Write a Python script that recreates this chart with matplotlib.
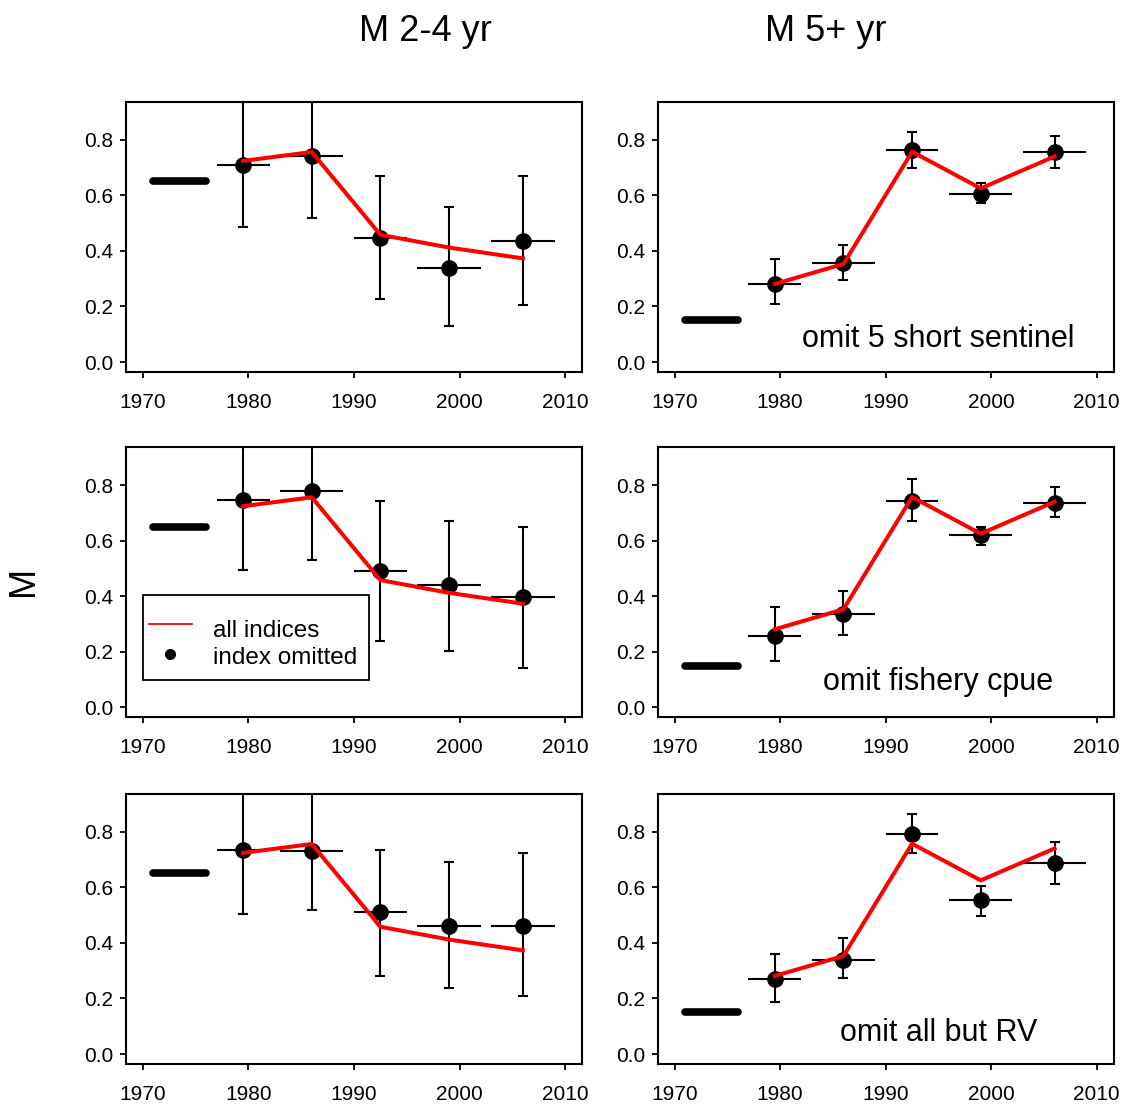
import matplotlib as mpl
mpl.use('Agg')
import matplotlib.pyplot as plt
from matplotlib.patches import Rectangle
from matplotlib.lines import Line2D

plt.rcParams['font.family'] = ['Liberation Sans', 'DejaVu Sans']

# period definitions
period_start = [1977, 1983, 1990, 1996, 2003]
period_end = [1982, 1989, 1995, 2002, 2009]
period_mid = [1979.5, 1986, 1992.5, 1999, 2006]

# prior period (thick black bar)
prior_years = [1971, 1976]
prior_young = 0.65
prior_old = 0.15

# all indices fit (red line)
all_young = [0.724, 0.756, 0.458, 0.412, 0.373]
all_old = [0.281, 0.353, 0.757, 0.625, 0.740]

# index omitted estimates and intervals
young_est = [[0.711, 0.742, 0.446, 0.339, 0.435],
             [0.748, 0.778, 0.490, 0.440, 0.396],
             [0.734, 0.730, 0.511, 0.461, 0.461]]
young_lo = [[0.486, 0.520, 0.227, 0.129, 0.207],
            [0.496, 0.532, 0.237, 0.202, 0.143],
            [0.505, 0.520, 0.280, 0.237, 0.208]]
young_hi = [[0.936, 0.964, 0.670, 0.557, 0.670],
            [1.000, 1.024, 0.742, 0.670, 0.649],
            [0.963, 0.940, 0.734, 0.693, 0.722]]

old_est = [[0.282, 0.355, 0.764, 0.605, 0.756],
           [0.256, 0.337, 0.742, 0.619, 0.734],
           [0.271, 0.340, 0.791, 0.553, 0.689]]
old_lo = [[0.208, 0.294, 0.699, 0.571, 0.699],
          [0.166, 0.259, 0.670, 0.584, 0.685],
          [0.186, 0.273, 0.722, 0.497, 0.612]]
old_hi = [[0.371, 0.420, 0.827, 0.643, 0.814],
          [0.360, 0.418, 0.822, 0.649, 0.793],
          [0.359, 0.417, 0.865, 0.605, 0.764]]

scenario_labels = ['omit 5 short sentinel', 'omit fishery cpue', 'omit all but RV']
label_y = [0.054, 0.064, 0.048]

col_titles = ['M 2-4 yr', 'M 5+ yr']

W, H = 1129, 1110
fig = plt.figure(figsize=(W / 100, H / 100), dpi=100)

col_left = [126, 657.7]
row_top = [102, 447.3, 794]
ax_w, ax_h = 456, 270


def draw_panel(ax, est, lo, hi, allfit, prior):
    ax.plot(prior_years, [prior, prior], color='black', lw=5.5,
            solid_capstyle='round', zorder=2)
    ax.hlines(est, period_start, period_end, color='black', lw=1.5, zorder=2)
    yerr = [[e - l for e, l in zip(est, lo)], [h - e for e, h in zip(est, hi)]]
    ax.errorbar(period_mid, est, yerr=yerr, fmt='o', color='black', ms=11,
                elinewidth=1.5, capsize=3.8, capthick=1.5, zorder=3)
    ax.plot(period_mid, allfit, color='red', lw=2.9, zorder=4)
    ax.set_xlim(1968.4, 2011.6)
    ax.set_ylim(-0.036, 0.936)
    ax.set_xticks([1970, 1980, 1990, 2000, 2010])
    ax.set_yticks([0.0, 0.2, 0.4, 0.6, 0.8])
    ax.set_yticklabels(['0.0', '0.2', '0.4', '0.6', '0.8'])
    ax.tick_params(axis='x', direction='out', length=4, width=1.3,
                   labelsize=15, pad=11)
    ax.tick_params(axis='y', direction='out', length=4.5, width=1.3,
                   labelsize=15, pad=4.5)
    for s in ax.spines.values():
        s.set_linewidth(1.5)


for r in range(3):
    for c in range(2):
        left = col_left[c] / W
        bottom = 1 - (row_top[r] + ax_h) / H
        ax = fig.add_axes([left, bottom, ax_w / W, ax_h / H])
        if c == 0:
            draw_panel(ax, young_est[r], young_lo[r], young_hi[r], all_young, prior_young)
        else:
            draw_panel(ax, old_est[r], old_lo[r], old_hi[r], all_old, prior_old)
            ax.text(1995, label_y[r], scenario_labels[r], fontsize=22,
                    ha='center', va='baseline')
        if r == 1 and c == 0:
            # legend box
            ax.add_patch(Rectangle((0.038, 0.138), 0.4956, 0.315,
                                   transform=ax.transAxes, fill=False,
                                   edgecolor='black', lw=1.3, zorder=5))
            ax.add_line(Line2D([0.051, 0.145], [0.3456, 0.3456], color='red',
                               lw=1.3, transform=ax.transAxes, zorder=5))
            ax.add_line(Line2D([0.0965], [0.2344], color='black', marker='o',
                               ms=7, transform=ax.transAxes, zorder=5))
            ax.text(0.190, 0.2985, 'all indices', fontsize=17.5,
                    transform=ax.transAxes, va='baseline', zorder=5)
            ax.text(0.190, 0.197, 'index omitted', fontsize=17.5,
                    transform=ax.transAxes, va='baseline', zorder=5)

fig.text(425 / W, 1 - 41 / H, col_titles[0], fontsize=26, ha='center', va='baseline')
fig.text(825.5 / W, 1 - 41 / H, col_titles[1], fontsize=26, ha='center', va='baseline')
fig.text(24 / W, 1 - 581 / H, 'M', fontsize=26, rotation=90, ha='center', va='center')

fig.savefig('out.png', dpi=100)
